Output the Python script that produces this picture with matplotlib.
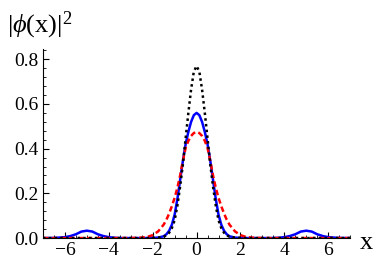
import numpy as np
import matplotlib
matplotlib.use("Agg")
from matplotlib import pyplot as plt
from matplotlib.ticker import MultipleLocator, FuncFormatter

plt.rcParams["font.family"] = ["Liberation Serif", "DejaVu Serif"]
plt.rcParams["mathtext.fontset"] = "custom"
plt.rcParams["mathtext.rm"] = "Liberation Serif"
plt.rcParams["mathtext.it"] = "Liberation Serif:italic"

# half profile (x >= 0), curves are symmetric about x = 0
x_half = [0, 0.125, 0.25, 0.375, 0.5, 0.625, 0.75, 0.875, 1.0, 1.125, 1.25,
          1.375, 1.5, 1.75, 2.0, 2.25, 2.5, 3.0, 3.5, 3.75, 4.0, 4.25, 4.5,
          4.75, 5.0, 5.25, 5.5, 5.75, 6.0, 6.5, 7.0]
blue_half = [0.560, 0.550, 0.520, 0.475, 0.420, 0.345, 0.260, 0.175, 0.105,
             0.060, 0.033, 0.017, 0.008, 0.002, 0.0005, 0.0, 0.0, 0.0, 0.0,
             0.0015, 0.004, 0.009, 0.017, 0.029, 0.033, 0.029, 0.017, 0.009,
             0.004, 0.0005, 0.0]
red_half = [0.475, 0.470, 0.457, 0.435, 0.403, 0.345, 0.280, 0.225, 0.180,
            0.143, 0.110, 0.082, 0.060, 0.030, 0.013, 0.005, 0.002, 0.0, 0.0,
            0.0, 0.0, 0.0, 0.0, 0.0, 0.0, 0.0, 0.0, 0.0, 0.0, 0.0, 0.0]
black_half = [0.770, 0.745, 0.665, 0.560, 0.445, 0.330, 0.230, 0.145, 0.080,
              0.045, 0.024, 0.012, 0.006, 0.002, 0.001, 0.0, 0.0, 0.0, 0.0,
              0.0, 0.0, 0.0, 0.0, 0.0, 0.0, 0.0, 0.0, 0.0, 0.0, 0.0, 0.0]


def mirror(v, sign=1):
    v = np.asarray(v, dtype=float)
    return np.concatenate([sign * v[:0:-1], v])


x = mirror(x_half, -1)
blue = mirror(blue_half)
red = mirror(red_half)
black = mirror(black_half)

fig = plt.figure(figsize=(3.82, 2.73), dpi=100)
ax = fig.add_axes([0.1126, 0.128, 0.804, 0.6925])

ax.plot(x, blue, color=(0, 0, 1), lw=1.8, solid_capstyle="butt")
ax.plot(x, red, color=(1, 0, 0), lw=1.8, dashes=(2.2, 1.3))
ax.plot(x, black, color="black", lw=1.8, dashes=(1.0, 1.3))

ax.set_xlim(-7, 7)
ax.set_ylim(0, 0.846)
for s in ["top", "right"]:
    ax.spines[s].set_visible(False)
for s in ["left", "bottom"]:
    ax.spines[s].set_linewidth(0.8)

ax.xaxis.set_major_locator(MultipleLocator(2))
ax.xaxis.set_minor_locator(MultipleLocator(0.5))
ax.yaxis.set_major_locator(MultipleLocator(0.2))
ax.yaxis.set_minor_locator(MultipleLocator(0.04))
ax.xaxis.set_major_formatter(FuncFormatter(lambda v, p: f"{v:.0f}".replace("-", "\u2212")))
ax.yaxis.set_major_formatter(FuncFormatter(lambda v, p: f"{v:.1f}"))
ax.tick_params(which="major", direction="in", length=4, width=0.8, labelsize=14, pad=3)
ax.tick_params(which="minor", direction="in", length=2.2, width=0.6)

ax.text(1.03, -0.025, "x", transform=ax.transAxes, fontsize=19, ha="left", va="center")
fig.text(0.018, 0.965, r"$|\phi(\mathrm{x})|^2$", fontsize=19, ha="left", va="top")

fig.savefig("out.png", dpi=100)
